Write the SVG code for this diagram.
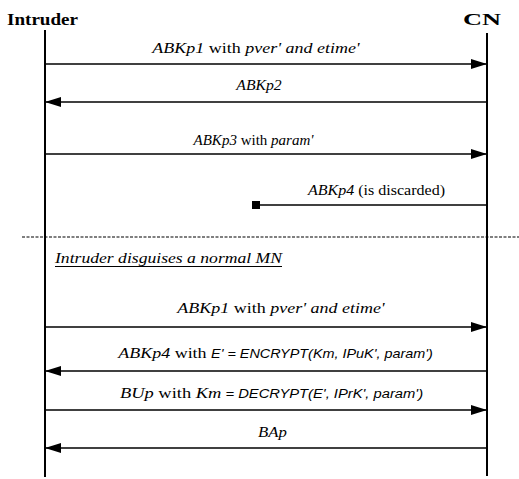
<svg xmlns="http://www.w3.org/2000/svg" width="519" height="479" viewBox="0 0 519 479">
<defs>
<marker id="ah" markerUnits="userSpaceOnUse" markerWidth="17" markerHeight="11" refX="16" refY="5" orient="auto">
<path d="M0,0 L16,5 L0,10 z" fill="#000"/>
</marker>
<style>
.life{stroke:#000;stroke-width:2;fill:none}
.msg{stroke:#000;stroke-width:1.3;fill:none}
.head{font-family:"Liberation Serif","Times New Roman",serif;font-weight:bold;font-size:17px;fill:#000}
.lbl{font-family:"Liberation Serif","Times New Roman",serif;font-size:15px;fill:#000;text-anchor:middle}
.i{font-style:italic}
.s{font-family:"Liberation Sans",Arial,sans-serif;font-style:italic;font-size:12px}
</style>
</defs>
<rect width="519" height="479" fill="#fff"/>
<g id="intruder">
<text class="head" x="7" y="25" textLength="71" lengthAdjust="spacingAndGlyphs">Intruder</text>
<line class="life" x1="45" y1="30" x2="45" y2="477"/>
</g>
<g id="cn">
<text class="head" x="463" y="25" textLength="38" lengthAdjust="spacingAndGlyphs">CN</text>
<line class="life" x1="487" y1="33" x2="487" y2="476"/>
</g>
<g id="connectors">
<line class="msg" x1="45" y1="64" x2="487" y2="64" marker-end="url(#ah)"/>
<line class="msg" x1="487" y1="102" x2="45" y2="102" marker-end="url(#ah)"/>
<line class="msg" x1="45" y1="154" x2="487" y2="154" marker-end="url(#ah)"/>
<line class="msg" x1="487" y1="205" x2="256" y2="205"/>
<rect x="252" y="201" width="8" height="8" fill="#000"/>
<line x1="22" y1="237" x2="519" y2="237" stroke="#000" stroke-width="1.2" stroke-dasharray="3,1.5"/>
<line class="msg" x1="45" y1="327" x2="487" y2="327" marker-end="url(#ah)"/>
<line class="msg" x1="487" y1="371" x2="45" y2="371" marker-end="url(#ah)"/>
<line class="msg" x1="45" y1="410" x2="487" y2="410" marker-end="url(#ah)"/>
<line class="msg" x1="487" y1="448" x2="45" y2="448" marker-end="url(#ah)"/>
</g>
<g id="labels">
<text class="lbl" transform="translate(256,53) scale(1.2,1)"><tspan class="i">ABKp1</tspan> with <tspan class="i">pver' and etime'</tspan></text>
<text class="lbl i" transform="translate(259,90) scale(1.05,1)">ABKp2</text>
<text class="lbl" transform="translate(253.5,145) scale(1.0,1)"><tspan class="i">ABKp3</tspan> with <tspan class="i">param'</tspan></text>
<text class="lbl" transform="translate(376.5,195) scale(1.07,1)"><tspan class="i">ABKp4</tspan> (is discarded)</text>
<text class="lbl i" style="text-anchor:start" x="55" y="263" textLength="227" lengthAdjust="spacingAndGlyphs">Intruder disguises a normal MN</text>
<line x1="55" y1="266.5" x2="282" y2="266.5" stroke="#000" stroke-width="1"/>
<text class="lbl" transform="translate(281,313) scale(1.2,1)"><tspan class="i">ABKp1</tspan> with <tspan class="i">pver' and etime'</tspan></text>
<text class="lbl" transform="translate(275.5,358) scale(1.2,1)"><tspan class="i">ABKp4</tspan> with <tspan class="s">E' = ENCRYPT(Km, IPuK', param')</tspan></text>
<text class="lbl" transform="translate(271.5,398) scale(1.23,1)"><tspan class="i">BUp</tspan> with <tspan class="i">Km</tspan><tspan class="s"> = DECRYPT(E', IPrK', param')</tspan></text>
<text class="lbl i" transform="translate(272.5,437) scale(1.12,1)">BAp</text>
</g>
</svg>
